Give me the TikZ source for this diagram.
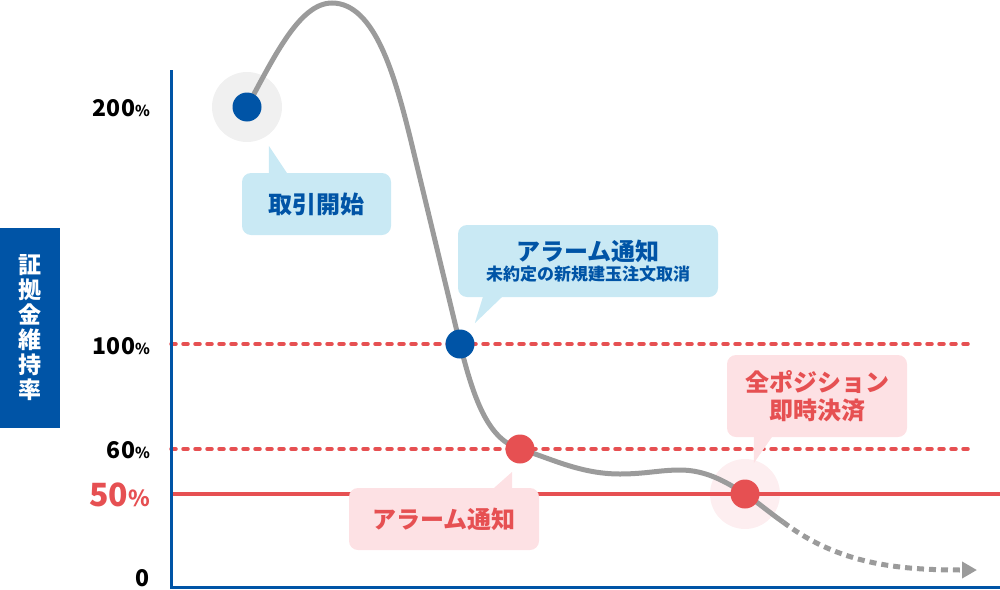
\documentclass[tikz,border=0pt]{standalone}
\usepackage{fontspec}
\usepackage{tikz}
\usetikzlibrary{arrows.meta}
\usetikzlibrary{positioning,calc}
\newfontfamily\jpfont{Noto Sans CJK JP}
\definecolor{mainblue}{RGB}{0,84,166}
\definecolor{alertred}{RGB}{230,80,82}
\definecolor{bubbleblue}{RGB}{201,233,244}
\definecolor{bubblepink}{RGB}{253,225,228}
\definecolor{halogray}{RGB}{240,240,240}
\definecolor{halopink}{RGB}{253,238,240}
\definecolor{curvegray}{RGB}{155,155,155}
\tikzset{
	every node/.style={font=\jpfont\bfseries\fontsize{24}{24}\selectfont}
}
\tikzset{
	pointdot/.style={circle,minimum size=29pt,inner sep=0pt},
	halo/.style={circle,minimum size=70pt,inner sep=0pt},
	bubble/.style={rounded corners=9pt,inner sep=0pt,align=center},
	bluebubble/.style={bubble,fill=bubbleblue,text=mainblue},
	pinkbubble/.style={bubble,fill=bubblepink,text=alertred},
	pctlabel/.style={anchor=east,inner sep=0pt,font=\jpfont\bfseries\fontsize{23}{23}\selectfont},
	guide/.style={alertred,line width=3.5pt,dash pattern=on 5pt off 7pt,line cap=round}
}
\newcommand{\pct}[1]{{\fontsize{15}{15}\selectfont #1}}

\begin{document}
\begin{tikzpicture}[x=1pt,y=-1pt]
      \useasboundingbox (0,0) rectangle (1000,589);
      \coordinate (startpt) at (247,107);
      \coordinate (bluept) at (460,344);
      \coordinate (redpt) at (520,449);
      \coordinate (closept) at (745,494);
      \coordinate (tailstart) at (783,522);
      \coordinate (tailend) at (977,570);
      \coordinate (axis100) at (171,344);
      \coordinate (end100) at (970,344);
      \coordinate (axis60) at (171,449);
      \coordinate (end60) at (970,449);
      \coordinate (axis50) at (171,494);
      \coordinate (end50) at (1000,494);
      \coordinate (axistop) at (171,70);
      \coordinate (origin) at (171,587);
      \coordinate (axisright) at (1000,587);
      \node[halo,fill=halogray] (startglow) at (startpt) {};
      \node[halo,fill=halopink] (closeglow) at (closept) {};
      \node[fill=mainblue,text=white,minimum width=60pt,minimum height=200pt,inner sep=0pt,align=center,
        font=\jpfont\bfseries\fontsize{23}{25}\selectfont] (ratio) at (30,328) {証\\拠\\金\\維\\持\\率};
      \node[pctlabel] (p200) at (150,108) {200\pct{\%}};
      \node[pctlabel] (p100) at (150,346) {100\pct{\%}};
      \node[pctlabel] (p60) at (150,450) {60\pct{\%}};
      \node[pctlabel,text=alertred,font=\jpfont\bfseries\fontsize{32}{32}\selectfont] (p50) at (150,495) {50{\fontsize{22}{22}\selectfont\%}};
      \node[pctlabel] (p0) at (150,578) {0};
      \draw[guide] (axis100) -- (end100);
      \draw[guide] (axis60) -- (end60);
      \draw[alertred,line width=4pt] (axis50) -- (end50);
      \draw[mainblue,line width=3pt] (axistop) -- (origin) -- (axisright);
      \draw[curvegray,line width=5pt] (startpt) .. controls (275,55) and (300,3) .. (332,3)
        .. controls (375,3) and (395,77) .. (410,137) -- (bluept)
        .. controls (475,405) and (490,440) .. (redpt)
        .. controls (550,458) and (580,474) .. (620,474)
        .. controls (645,474) and (660,470) .. (680,470)
        .. controls (705,470) and (725,481) .. (closept)
        .. controls (758,502.5) and (770,513) .. (tailstart);
      \draw[curvegray,line width=5pt,dash pattern=on 7pt off 5pt,-{Triangle[length=15pt,width=16pt]}] (tailstart) .. controls (840,565) and (900,570) .. (tailend);
      \node[pointdot,fill=mainblue] (start) at (startpt) {};
      \node[pointdot,fill=mainblue] (alarmblue) at (bluept) {};
      \node[pointdot,fill=alertred] (alarmred) at (redpt) {};
      \node[pointdot,fill=alertred] (closeall) at (closept) {};
      \node[bluebubble,minimum width=149pt,minimum height=62pt] (startnote) at (316.5,204) {取引開始};
      \fill[bubbleblue] ($(startnote.north west)+(27,0)$) -- ++(18,0) -- ($(startnote.north west)+(27,-27)$) -- cycle;
      \node[bluebubble,minimum width=260pt,minimum height=72pt] (bluenote) at (588,261) {アラーム通知\\[-4pt]{\fontsize{17}{17}\selectfont 未約定の新規建玉注文取消}};
      \fill[bubbleblue] ($(bluenote.south west)+(25,0)$) -- ++(19,0) -- ($(bluenote.south west)+(17,26)$) -- cycle;
      \node[pinkbubble,minimum width=190pt,minimum height=62pt] (rednote) at (444,519) {アラーム通知};
      \fill[bubblepink] ($(rednote.north east)+(-45,0)$) -- ++(18,0) -- ($(rednote.north east)+(-27,-16)$) -- cycle;
      \node[pinkbubble,minimum width=180pt,minimum height=82pt,font=\jpfont\bfseries\fontsize{24}{28}\selectfont] (closenote) at (817,396) {全ポジション\\即時決済};
      \fill[bubblepink] ($(closenote.south west)+(27,0)$) -- ++(18,0) -- ($(closenote.south west)+(27,26)$) -- cycle;
    \end{tikzpicture}
\end{document}
